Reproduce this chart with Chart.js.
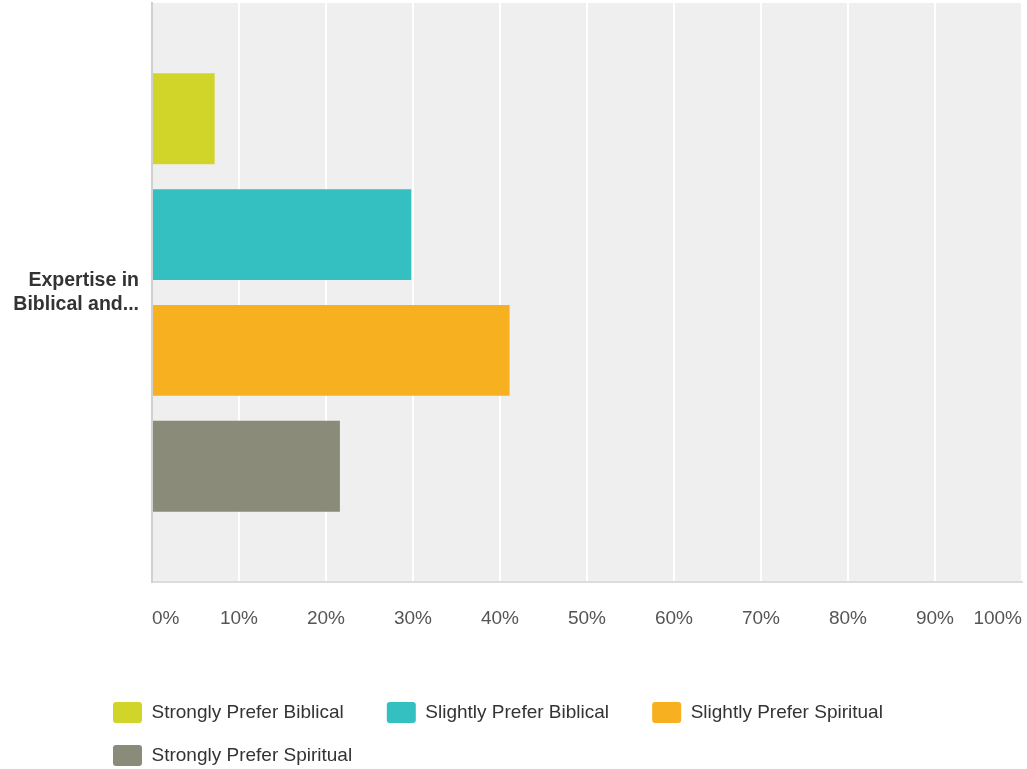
<!DOCTYPE html>
<html>
<head>
<meta charset="utf-8">
<script src="https://cdn.jsdelivr.net/npm/chart.js@4/dist/chart.umd.min.js"></script>
<style>
  html, body { margin: 0; padding: 0; background: #fff; }
  #wrap { width: 1027px; height: 769px; }
</style>
</head>
<body>
<div id="wrap"><canvas id="c" width="1027" height="769"></canvas></div>
<script>
// ---- data ----
const categories = [["Expertise in", "Biblical and..."]];
const seriesNames = ["Strongly Prefer Biblical", "Slightly Prefer Biblical", "Slightly Prefer Spiritual", "Strongly Prefer Spiritual"];
const strongBiblical = [7.2];
const slightBiblical = [29.8];
const slightSpiritual = [41.1];
const strongSpiritual = [21.6];
const tickValues = [0, 10, 20, 30, 40, 50, 60, 70, 80, 90, 100];
const seriesColors = ["#d1d52a", "#34bfc0", "#f7b01f", "#8a8b79"];

const FONT = "'Liberation Sans', Arial, Helvetica, sans-serif";
const seriesValues = [strongBiblical, slightBiblical, slightSpiritual, strongSpiritual];

const plotBg = {
  id: 'plotBg',
  beforeDraw(chart) {
    const a = chart.chartArea, ctx = chart.ctx;
    ctx.save();
    ctx.fillStyle = '#efefef';
    ctx.fillRect(a.left, a.top, a.right - a.left, a.bottom - a.top);
    ctx.restore();
  }
};
const legendPlace = {
  id: 'legendPlace',
  afterLayout(chart) {
    const lg = chart.legend;
    lg.left = 113 - 22;
    lg.top = 702 - 22;
  }
};
function zeroPad(scale) {
  scale.paddingTop = 0; scale.paddingBottom = 0;
  scale.paddingLeft = 0; scale.paddingRight = 0;
}

new Chart(document.getElementById('c'), {
  type: 'bar',
  data: {
    labels: categories,
    datasets: seriesNames.map((name, i) => ({
      label: name,
      data: seriesValues[i],
      backgroundColor: seriesColors[i],
      borderWidth: 0,
      categoryPercentage: 0.8,
      barPercentage: 0.785
    }))
  },
  options: {
    indexAxis: 'y',
    responsive: false,
    animation: false,
    layout: { padding: { top: 3, right: 5, left: 0, bottom: 0 } },
    scales: {
      x: {
        min: 0, max: 100,
        afterBuildTicks(scale) { scale.ticks = tickValues.map(v => ({ value: v })); },
        afterFit(scale) { scale.height = 91; zeroPad(scale); },
        grid: {
          color: (ctx) => ctx.index === 0 ? 'rgba(0,0,0,0)' : '#ffffff',
          lineWidth: 2,
          drawTicks: false
        },
        border: { color: '#dcdcdc', width: 2 },
        ticks: {
          align: 'inner',
          padding: 25,
          color: '#555555',
          font: { family: FONT, size: 19 },
          maxRotation: 0,
          autoSkip: false,
          callback: (v) => v + '%'
        }
      },
      y: {
        afterFit(scale) { scale.width = 152; zeroPad(scale); },
        grid: { display: false, drawTicks: false },
        border: { color: '#d0d0d0', width: 2 },
        ticks: {
          padding: 13,
          color: '#333333',
          font: { family: FONT, size: 19.5, weight: 'bold', lineHeight: 1.22 }
        }
      }
    },
    plugins: {
      tooltip: { enabled: false },
      legend: {
        position: 'bottom',
        align: 'start',
        labels: {
          boxWidth: 29,
          boxHeight: 21,
          padding: 22,
          useBorderRadius: true,
          borderRadius: 3,
          color: '#333333',
          font: { family: FONT, size: 19 },
          generateLabels(chart) {
            return Chart.defaults.plugins.legend.labels.generateLabels(chart)
              .map(l => Object.assign(l, { text: l.text + '    ' }));
          }
        }
      }
    }
  },
  plugins: [plotBg, legendPlace]
});
</script>
</body>
</html>
